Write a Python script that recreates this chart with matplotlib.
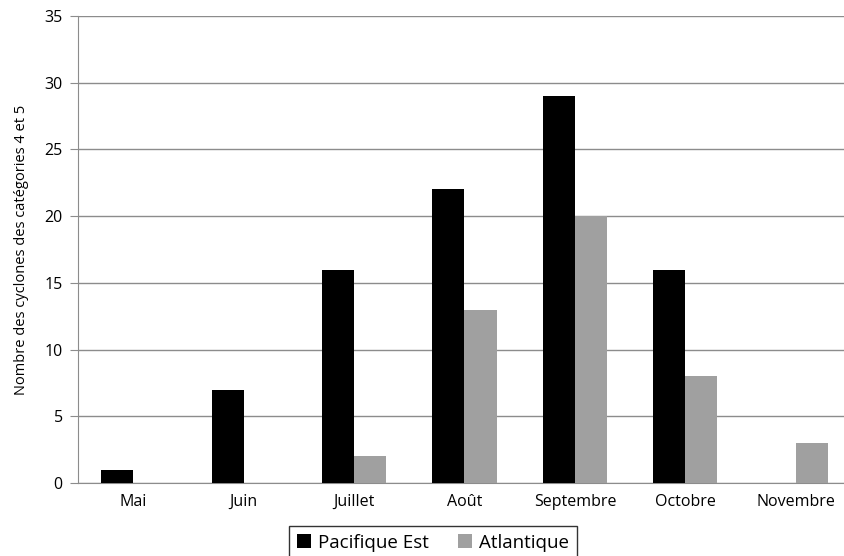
import matplotlib.pyplot as plt
import numpy as np

# data
mois = ['Mai', 'Juin', 'Juillet', 'Août', 'Septembre', 'Octobre', 'Novembre']
pacifique = [1, 7, 16, 22, 29, 16, 0]
atlantique = [0, 0, 2, 13, 20, 8, 3]

plt.rcParams['font.family'] = ['Open Sans', 'DejaVu Sans']

fig = plt.figure(figsize=(8.45, 5.56), dpi=100)
ax = fig.add_axes([78/845, 1 - 483/556, 773/845, 467/556])

x = np.arange(len(mois))
w = 0.29
ax.bar(x - w/2, pacifique, w, color='black', label='Pacifique Est', zorder=3)
ax.bar(x + w/2, atlantique, w, color='#a0a0a0', label='Atlantique', zorder=3)

ax.set_xlim(-0.5, len(mois) - 0.5)
ax.set_ylim(0, 35)
ax.set_yticks(range(0, 36, 5))
ax.set_xticks(x)
ax.set_xticklabels(mois)
ax.yaxis.grid(True, color='#8c8c8c', linewidth=1, zorder=0)
ax.tick_params(axis='y', length=6, color='#8c8c8c', labelsize=11.5, pad=5)
ax.tick_params(axis='x', length=0, labelsize=11.5, pad=8)
for s in ['top', 'right']:
    ax.spines[s].set_visible(False)
ax.spines['left'].set_color('#8c8c8c')
ax.spines['bottom'].set_color('#8c8c8c')
ax.set_ylabel('Nombre des cyclones des catégories 4 et 5', fontsize=10.5, labelpad=11)

leg = fig.legend(loc='lower center', bbox_to_anchor=(433/845, -0.016), ncol=2,
                 fontsize=13.5, frameon=True, fancybox=False, edgecolor='black',
                 handlelength=0.75, handleheight=0.75, handletextpad=0.4, columnspacing=1.5,
                 borderpad=0.4, borderaxespad=0.3)
leg.get_frame().set_linewidth(1)

plt.savefig('out.png', dpi=100)
